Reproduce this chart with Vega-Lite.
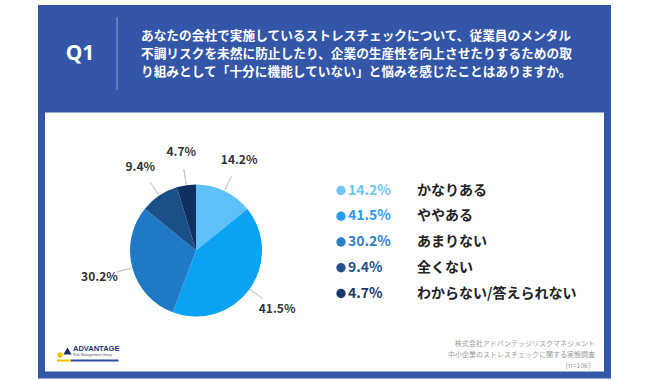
{
  "$schema": "https://vega.github.io/schema/vega-lite/v6.json",
  "background": "white",
  "padding": {"left": 38, "top": 5, "right": 39, "bottom": 5},
  "config": {"font": "Noto Sans CJK JP", "view": {"stroke": null}},
  "datasets": {
    "answers": [
      {"idx": 1, "answer": "かなりある", "pct": 14.2, "label": "14.2%"},
      {"idx": 2, "answer": "ややある", "pct": 41.5, "label": "41.5%"},
      {"idx": 3, "answer": "あまりない", "pct": 30.2, "label": "30.2%"},
      {"idx": 4, "answer": "全くない", "pct": 9.4, "label": "9.4%"},
      {"idx": 5, "answer": "わからない/答えられない", "pct": 4.7, "label": "4.7%"}
    ],
    "question": [
      {"line": 1, "text": "あなたの会社で実施しているストレスチェックについて、従業員のメンタル"},
      {"line": 2, "text": "不調リスクを未然に防止したり、企業の生産性を向上させたりするための取"},
      {"line": 3, "text": "り組みとして「十分に機能していない」と悩みを感じたことはありますか。"}
    ],
    "source": [
      {"line": 1, "text": "株式会社アドバンテッジリスクマネジメント"},
      {"line": 2, "text": "中小企業のストレスチェックに関する実態調査"},
      {"line": 3, "text": "（n=106）"}
    ]
  },
  "spacing": 0,
  "bounds": "flush",
  "center": true,
  "vconcat": [
    {
      "width": 573,
      "height": 104,
      "view": {"fill": "#3356a8", "stroke": null},
      "layer": [
        {
          "data": {"values": [{"q": "Q1"}]},
          "mark": {"type": "text", "fontSize": 21, "fontWeight": "bold", "color": "white", "font": "Noto Sans"},
          "encoding": {"text": {"field": "q"}, "x": {"value": 42}, "y": {"value": 49}}
        },
        {
          "data": {"values": [{"sep": 1}]},
          "mark": {"type": "rule", "color": "#8ea4d8", "strokeWidth": 1},
          "encoding": {"x": {"value": 79}, "y": {"value": 12}, "y2": {"value": 85}}
        },
        {
          "data": {"name": "question"},
          "mark": {"type": "text", "align": "left", "baseline": "middle", "fontSize": 12.7, "fontWeight": "bold", "color": "white"},
          "encoding": {
            "text": {"field": "text"},
            "x": {"value": 103},
            "y": {"field": "line", "type": "ordinal", "scale": {"type": "point", "range": [31, 67], "padding": 0}, "axis": null}
          }
        }
      ]
    },
    {
      "width": 566,
      "height": 266,
      "view": {"fill": "white", "stroke": "#3356a8", "strokeWidth": 7},
      "resolve": {"scale": {"y": "independent"}},
      "layer": [
        {
          "data": {"name": "answers"},
          "mark": {"type": "arc", "outerRadius": 66},
          "encoding": {
            "theta": {"field": "pct", "type": "quantitative", "stack": true},
            "order": {"field": "idx"},
            "color": {"field": "answer", "type": "nominal", "legend": null,
              "scale": {"domain": ["かなりある", "ややある", "あまりない", "全くない", "わからない/答えられない"],
                        "range": ["#5fc0f8", "#0ba2f4", "#1f79c6", "#1b4f88", "#112f5f"]}},
            "x": {"value": 154.5},
            "y": {"value": 141.5}
          }
        },
        {
          "data": {"name": "answers"},
          "mark": {"type": "arc", "innerRadius": 67, "outerRadius": 82, "padAngle": 3, "filled": false, "color": "#c8c8c8", "strokeWidth": 1},
          "encoding": {
            "theta": {"field": "pct", "type": "quantitative", "stack": true},
            "order": {"field": "idx"},
            "x": {"value": 154.5},
            "y": {"value": 141.5}
          }
        },
        {
          "data": {"name": "answers"},
          "mark": {"type": "text", "radius": 100, "fontSize": 12, "fontWeight": "bold", "color": "#333333"},
          "encoding": {
            "theta": {"field": "pct", "type": "quantitative", "stack": true},
            "order": {"field": "idx"},
            "text": {"field": "label"},
            "x": {"value": 154.5},
            "y": {"value": 141.5}
          }
        },
        {
          "data": {"name": "answers"},
          "mark": {"type": "point", "shape": "circle", "filled": true, "size": 88, "opacity": 1},
          "encoding": {
            "x": {"value": 299.5},
            "y": {"field": "answer", "type": "nominal", "sort": {"field": "idx"}, "axis": null,
                  "scale": {"type": "point", "range": [81.5, 184.5], "padding": 0}},
            "fill": {"field": "answer", "type": "nominal", "legend": null,
              "scale": {"domain": ["かなりある", "ややある", "あまりない", "全くない", "わからない/答えられない"],
                        "range": ["#6ec5f6", "#2a9cee", "#2f7dc3", "#22508b", "#1b386b"]}}
          }
        },
        {
          "data": {"name": "answers"},
          "mark": {"type": "text", "align": "left", "fontSize": 14, "fontWeight": "bold"},
          "encoding": {
            "text": {"field": "label"},
            "x": {"value": 306.5},
            "y": {"field": "answer", "type": "nominal", "sort": {"field": "idx"}, "axis": null,
                  "scale": {"type": "point", "range": [81.5, 184.5], "padding": 0}},
            "fill": {"field": "answer", "type": "nominal", "legend": null,
              "scale": {"domain": ["かなりある", "ややある", "あまりない", "全くない", "わからない/答えられない"],
                        "range": ["#6ec5f6", "#2a9cee", "#2f7dc3", "#22508b", "#1b386b"]}}
          }
        },
        {
          "data": {"name": "answers"},
          "mark": {"type": "text", "align": "left", "fontSize": 14, "fontWeight": "bold", "color": "#222222"},
          "encoding": {
            "text": {"field": "answer"},
            "x": {"value": 375.5},
            "y": {"field": "answer", "type": "nominal", "sort": {"field": "idx"}, "axis": null,
                  "scale": {"type": "point", "range": [81.5, 184.5], "padding": 0}}
          }
        },
        {
          "data": {"name": "source"},
          "mark": {"type": "text", "align": "right", "fontSize": 7, "color": "#9a9a9a"},
          "encoding": {
            "text": {"field": "text"},
            "x": {"value": 553.5},
            "y": {"field": "line", "type": "ordinal", "axis": null,
                  "scale": {"type": "point", "range": [234.5, 256.5], "padding": 0}}
          }
        },
        {
          "data": {"values": [{"t": "ADVANTAGE"}]},
          "mark": {"type": "text", "align": "left", "fontSize": 7.5, "fontWeight": "bold", "color": "#1f2f6b", "font": "Liberation Sans"},
          "encoding": {"text": {"field": "t"}, "x": {"value": 31.5}, "y": {"value": 240}}
        },
        {
          "data": {"values": [{"t": "Risk Management Group"}]},
          "mark": {"type": "text", "align": "left", "fontSize": 3.5, "color": "#555555", "font": "Liberation Sans"},
          "encoding": {"text": {"field": "t"}, "x": {"value": 31.5}, "y": {"value": 245.5}}
        },
        {
          "data": {"values": [{"p": "tri"}]},
          "mark": {"type": "point", "shape": "triangle-up", "filled": true, "size": 70, "color": "#1f2f6b", "opacity": 1},
          "encoding": {"x": {"value": 26}, "y": {"value": 242}}
        },
        {
          "data": {"values": [{"p": "dot"}]},
          "mark": {"type": "point", "shape": "circle", "filled": true, "size": 28, "color": "#f2c200", "opacity": 1},
          "encoding": {"x": {"value": 18.5}, "y": {"value": 246}}
        },
        {
          "data": {"values": [{"p": "y"}]},
          "mark": {"type": "rule", "color": "#f2c200", "strokeWidth": 2},
          "encoding": {"x": {"value": 15.5}, "x2": {"value": 29.5}, "y": {"value": 251.5}}
        },
        {
          "data": {"values": [{"p": "b"}]},
          "mark": {"type": "rule", "color": "#2b4aa0", "strokeWidth": 2},
          "encoding": {"x": {"value": 29.5}, "x2": {"value": 77}, "y": {"value": 251.5}}
        }
      ]
    }
  ]
}
